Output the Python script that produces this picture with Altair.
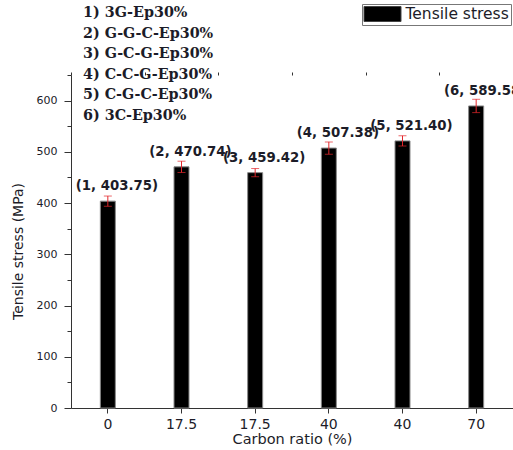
import altair as alt
import pandas as pd

# ---- data ----
samples = [1, 2, 3, 4, 5, 6]
carbon_ratio = ["0", "17.5", "17.5", "40", "40", "70"]
stress = [403.75, 470.74, 459.42, 507.38, 521.40, 589.58]
err = [10, 11, 8, 12, 10, 13]
specimens = ["3G-Ep30%", "G-G-C-Ep30%", "G-C-G-Ep30%", "C-C-G-Ep30%", "C-G-C-Ep30%", "3C-Ep30%"]
series_name = "Tensile stress"
y_major = [0, 100, 200, 300, 400, 500, 600]
y_minor = [50, 150, 250, 350, 450, 550, 650]

df = pd.DataFrame({"sample": samples, "stress": stress, "err": err})
df["series"] = series_name
df["lower"] = df["stress"] - df["err"]
df["upper"] = df["stress"] + df["err"]
df["label"] = [f"({s}, {v:.2f})" for s, v in zip(samples, stress)]

spec_lines = [f"{i}) {name}" for i, name in zip(samples, specimens)]

label_expr = "[" + ",".join(f"'{c}'" for c in carbon_ratio) + "][+datum.value - 1]"

TXT = "#1c1c28"
AX = "#333333"
RED = "#e3262b"

xscale = alt.Scale(paddingInner=0, paddingOuter=0)
yscale = alt.Scale(domain=[0, 650], nice=False)

base = alt.Chart(df)

bars = base.mark_bar(size=15, stroke="#888888", strokeWidth=1).encode(
    x=alt.X("sample:O", scale=xscale, axis=alt.Axis(
        labelExpr=label_expr, labelAngle=0, labelFont="DejaVu Sans", labelFontSize=14,
        labelColor=TXT, labelPadding=4, tickSize=5, domainColor=AX, tickColor=AX,
        title="Carbon ratio (%)", titleFont="DejaVu Sans", titleFontSize=14.5,
        titleFontWeight="normal", titleColor=TXT, titleBaseline="alphabetic", titleY=35)),
    y=alt.Y("stress:Q", scale=yscale, axis=alt.Axis(
        values=y_major, labelFont="DejaVu Sans", labelFontSize=11, labelColor=TXT,
        labelPadding=7, tickSize=7, domainColor=AX, tickColor=AX, grid=False,
        title="Tensile stress (MPa)", titleFont="DejaVu Sans", titleFontSize=14,
        titleFontWeight="normal", titleColor=TXT, titleBaseline="alphabetic",
        titleX=-49, titleY=176, titleAlign="center")),
    color=alt.Color("series:N", scale=alt.Scale(domain=[series_name], range=["#000000"]),
                    legend=alt.Legend(title=None, orient="none", legendX=291, legendY=-71,
                                      padding=1.5, strokeColor="#777777", fillColor="white",
                                      symbolType="M-1,-0.9375H3.625V0.9375H-1Z", symbolSize=256,
                                      symbolStrokeColor="#444444", symbolStrokeWidth=1,
                                      labelFont="DejaVu Sans", labelFontSize=15.5,
                                      labelColor=TXT, labelOffset=25, labelLimit=300)),
)

rules = base.mark_rule(color=RED, strokeWidth=1).encode(
    x=alt.X("sample:O", scale=xscale, axis=alt.Axis(
        tickBand="extent", labels=False, domain=False, tickSize=3, tickColor=AX, title=None)),
    y=alt.Y("lower:Q", scale=yscale, axis=alt.Axis(
        values=y_minor, labels=False, domain=False, tickSize=4, tickColor=AX,
        title=None, orient="left", grid=False)),
    y2="upper:Q",
)

cap_lo = base.mark_tick(color=RED, size=8, thickness=1).encode(
    x=alt.X("sample:O", axis=None), y=alt.Y("lower:Q", axis=None))
cap_hi = base.mark_tick(color=RED, size=8, thickness=1).encode(
    x=alt.X("sample:O", axis=None), y=alt.Y("upper:Q", axis=None))

labels = base.mark_text(font="DejaVu Sans", fontWeight="bold", fontSize=13.3, color=TXT,
                        align="center", baseline="alphabetic", dx=9, dy=-11).encode(
    x=alt.X("sample:O", axis=None), y=alt.Y("stress:Q", axis=None), text="label:N")

notes = alt.Chart(pd.DataFrame({"k": [0]})).mark_text(
    text=spec_lines, font="DejaVu Serif", fontWeight="bold", fontSize=14.3, color=TXT,
    align="left", baseline="alphabetic", lineHeight=20.5).encode(
    x=alt.value(12), y=alt.value(-57.7))

chart = alt.layer(bars, rules, cap_lo, cap_hi, labels, notes).resolve_axis(
    x="independent", y="independent"
).properties(
    width=442, height=333,
    autosize=alt.AutoSizeParams(type="none"),
    padding={"left": 71, "top": 75, "right": 0, "bottom": 42},
).configure_view(stroke=None)

chart.save("out.html", embed_options={"renderer": "svg", "actions": False})
